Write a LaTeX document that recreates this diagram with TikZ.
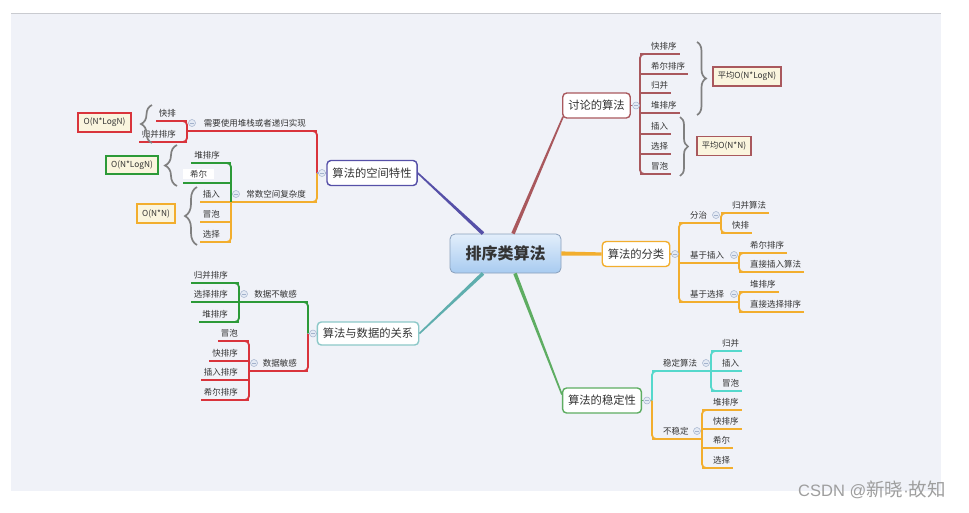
\documentclass[tikz,border=0pt]{standalone}
\usepackage{fontspec}
\setmainfont{Noto Sans CJK SC}
\newfontfamily\latinwm{Liberation Sans}
\usetikzlibrary{decorations.pathreplacing,calc}
\definecolor{bgc}{HTML}{F0F2F8}
\definecolor{bgl}{HTML}{C9CBD0}
\definecolor{txt}{HTML}{333333}
\definecolor{dr}{HTML}{A9585D}
\definecolor{orc}{HTML}{F2AE2E}
\definecolor{cyc}{HTML}{55D8CC}
\definecolor{rdc}{HTML}{D9343C}
\definecolor{gnc}{HTML}{2C9A38}
\definecolor{puc}{HTML}{5650A8}
\definecolor{tlc}{HTML}{5FAEAE}
\definecolor{tlb}{HTML}{8CC8C8}
\definecolor{stc}{HTML}{5EAD62}
\definecolor{mkb}{HTML}{A3B2CC}
\definecolor{mkf}{HTML}{E4EAF4}
\definecolor{ofill}{HTML}{FAF5DE}
\definecolor{brc}{HTML}{808080}
\definecolor{rtop}{HTML}{E2EEFB}
\definecolor{rbot}{HTML}{A8CBF0}
\definecolor{rbord}{HTML}{8AA0BC}
\tikzset{
  lab/.style={text=txt,font=\fontsize{8.5}{10}\selectfont,inner xsep=3pt,inner ysep=1pt},
  ln/.style={line width=1.8pt},
  mbox/.style={draw,rounded corners=4pt,fill=white,line width=1.4pt,text=txt,
    font=\fontsize{11.3}{13}\selectfont,inner xsep=5.5pt,minimum height=25pt},
  obox/.style={draw,fill=ofill,line width=1.4pt,text=txt,font=\fontsize{8.3}{10}\selectfont,
    inner xsep=2pt,inner ysep=1pt,minimum height=19pt},
  bracec/.style={draw=brc,line width=1.7pt,decorate},
  mk/.style={circle,draw=mkb,fill=mkf,line width=0.5pt,minimum size=7pt,inner sep=0pt,
    path picture={\draw[mkb,line width=0.7pt] ([xshift=-2pt]path picture bounding box.center) -- ([xshift=2pt]path picture bounding box.center);}}
}
% right-side leaf: name, bracket x, line y, text, colour
\newcommand\RL[5]{%
  \coordinate (#1-b) at (#2,#3);
  \node[lab,anchor=base west] (#1) at (#2+8,#3-4.5) {#4};
  \draw[ln,#5] (#1-b) -- (#1.east |- #1-b);}
% left-side leaf
\newcommand\LL[5]{%
  \coordinate (#1-b) at (#2,#3);
  \node[lab,anchor=base east] (#1) at (#2-8,#3-4.5) {#4};
  \draw[ln,#5] (#1-b) -- (#1.west |- #1-b);}
% right-side parent: name, bracket x, line y, text, colour, sub-bracket x
\newcommand\RP[6]{%
  \coordinate (#1-b) at (#2,#3);
  \coordinate (#1-s) at (#6,#3);
  \node[lab,anchor=base west] (#1) at (#2+8,#3-4.5) {#4};
  \draw[ln,#5] (#1-b) -- (#1-s);
  \node[mk] (#1-m) at (#6-5,#3-8) {};}
% left-side parent
\newcommand\LP[6]{%
  \coordinate (#1-b) at (#2,#3);
  \coordinate (#1-s) at (#6,#3);
  \node[lab,anchor=base east] (#1) at (#2-8,#3-4.5) {#4};
  \draw[ln,#5] (#1-b) -- (#1-s);
  \node[mk] (#1-m) at (#6+5,#3-8) {};}
% brackets: colour, x, y top, y bottom
\newcommand\BRR[4]{\draw[ln,#1,rounded corners=4pt] (#2+8,#3) -- (#2,#3) -- (#2,#4) -- (#2+8,#4);}
\newcommand\BRL[4]{\draw[ln,#1,rounded corners=4pt] (#2-8,#3) -- (#2,#3) -- (#2,#4) -- (#2-8,#4);}
% tapered connector: colour, from, to, half width start, half width end
\newcommand\TAPER[5]{%
  \fill[#1] ($(#2)!#4!90:(#3)$) -- ($(#3)!#5!-90:(#2)$) -- ($(#3)!#5!90:(#2)$) -- ($(#2)!#4!-90:(#3)$) -- cycle;}

\begin{document}
\begin{tikzpicture}[x=1pt,y=-1pt]
\useasboundingbox (0,0) rectangle (969,512);
\fill[bgc] (11,13) rectangle (941,491);
\draw[bgl,line width=1pt] (11,13.5) -- (941,13.5);

% ---------- main boxes ----------
\node[mbox,draw=dr] (disc) at (596.5,105.5) {讨论的算法};
\node[mbox,draw=orc] (cls) at (636,254) {算法的分类};
\node[mbox,draw=stc] (stab) at (602,400.5) {算法的稳定性};
\node[mbox,draw=puc] (space) at (372,173) {算法的空间特性};
\node[mbox,draw=tlb,minimum height=23pt] (data) at (368,333.5) {算法与数据的关系};

\node[draw=rbord,line width=0.8pt,rounded corners=5pt,top color=rtop,bottom color=rbot,
  minimum width=111pt,minimum height=39pt,text=txt,font=\fontsize{16}{18}\selectfont\bfseries] (root) at (505.5,253.5) {排序类算法};

% ---------- main connectors ----------
\coordinate (r-n1) at ($(root.north)+(7.5,0)$);
\coordinate (r-n2) at ($(root.north)+(-22.5,0)$);
\coordinate (r-s1) at ($(root.south)+(9.5,0)$);
\coordinate (r-s2) at ($(root.south)+(-22.5,0)$);
\coordinate (disc-in) at ($(disc.south west)+(1,-2)$);
\coordinate (stab-in) at ($(stab.west)+(0,-6)$);
\TAPER{dr}{r-n1}{disc-in}{1.8pt}{0.8pt}
\TAPER{orc}{root.east}{cls.west}{2.1pt}{1.6pt}
\TAPER{stc}{r-s1}{stab-in}{1.8pt}{0.8pt}
\TAPER{puc}{r-n2}{space.east}{1.8pt}{0.8pt}
\TAPER{tlc}{r-s2}{data.east}{1.8pt}{0.8pt}

% ---------- 讨论的算法 ----------
\RL{d1}{640}{54}{快排序}{dr}
\RL{d2}{640}{74}{希尔排序}{dr}
\RL{d3}{640}{93}{归并}{dr}
\RL{d4}{640}{113}{堆排序}{dr}
\RL{d5}{640}{134}{插入}{dr}
\RL{d6}{640}{154}{选择}{dr}
\RL{d7}{640}{174}{冒泡}{dr}
\BRR{dr}{640}{54}{174}
\coordinate (disc-b) at (640,105.5);
\draw[ln,dr] (disc.east) -- (disc-b);
\node[mk] (disc-m) at (636,105.5) {};
\draw[bracec,decoration={brace,amplitude=9pt}] (697,42) -- (697,115);
\draw[bracec,decoration={brace,amplitude=8pt}] (680,117) -- (680,176);
\node[obox,draw=dr,minimum width=68pt] (avg1) at (747,76.5) {平均O(N*LogN)};
\node[obox,draw=dr,minimum width=54pt] (avg2) at (724,146) {平均O(N*N)};

% ---------- 算法的分类 ----------
\RP{c1}{679}{223}{分治}{orc}{721}
\RP{c2}{679}{263}{基于插入}{orc}{739}
\RP{c3}{679}{302}{基于选择}{orc}{739}
\BRR{orc}{679}{223}{302}
\coordinate (cls-b) at (679,254);
\draw[ln,orc] (cls.east) -- (cls-b);
\node[mk] (cls-m) at (675,254) {};
\RL{c11}{721}{213}{归并算法}{orc}
\RL{c12}{721}{233}{快排}{orc}
\BRR{orc}{721}{213}{233}
\RL{c21}{739}{253}{希尔排序}{orc}
\RL{c22}{739}{272}{直接插入算法}{orc}
\BRR{orc}{739}{253}{272}
\RL{c31}{739}{292}{堆排序}{orc}
\RL{c32}{739}{312}{直接选择排序}{orc}
\BRR{orc}{739}{292}{312}

% ---------- 算法的稳定性 ----------
\RP{s1}{652}{371}{稳定算法}{cyc}{711}
\RP{s2}{652}{439}{不稳定}{orc}{702}
\coordinate (stab-b) at (652,400.5);
\draw[ln,stc] (stab.east) -- (stab-b);
\draw[ln,cyc,rounded corners=4pt] (660,371) -- (652,371) -- (stab-b);
\draw[ln,orc,rounded corners=4pt] (stab-b) -- (652,439) -- (660,439);
\node[mk] (stab-m) at (647,400.5) {};
\RL{s11}{711}{351}{归并}{cyc}
\RL{s12}{711}{371}{插入}{cyc}
\RL{s13}{711}{391}{冒泡}{cyc}
\BRR{cyc}{711}{351}{391}
\RL{s21}{702}{410}{堆排序}{orc}
\RL{s22}{702}{429}{快排序}{orc}
\RL{s23}{702}{448}{希尔}{orc}
\RL{s24}{702}{468}{选择}{orc}
\BRR{orc}{702}{410}{468}

% ---------- 算法的空间特性 ----------
\LP{p1}{317}{131}{需要使用堆栈或者递归实现}{rdc}{187}
\LP{p2}{317}{202}{常数空间复杂度}{orc}{231}
\coordinate (space-b) at (317,173);
\draw[ln,rdc,rounded corners=4pt] (309,131) -- (317,131) -- (space-b);
\draw[ln,orc,rounded corners=4pt] (space-b) -- (317,202) -- (309,202);
\draw[ln,puc!60!white] (space.west) -- (space-b);
\node[mk] (space-m) at (322,173) {};
\LL{p11}{187}{121}{快排}{rdc}
\LL{p12}{187}{142}{归并排序}{rdc}
\BRL{rdc}{187}{121}{142}
\LL{p21}{231}{163}{堆排序}{gnc}
\node[lab,fill=white,minimum width=31pt,minimum height=10pt,inner sep=0pt] (p22) at (198.5,174) {希尔};
\coordinate (p22-b) at (231,183);
\coordinate (p22-e) at (183,183);
\draw[ln,gnc] (p22-b) -- (p22-e);
\LL{p23}{231}{202}{插入}{orc}
\LL{p24}{231}{222}{冒泡}{orc}
\LL{p25}{231}{242}{选择}{orc}
\draw[ln,gnc,rounded corners=4pt] (223,163) -- (231,163) -- (231,202);
\draw[ln,orc,rounded corners=4pt] (231,202) -- (231,242) -- (223,242);
\draw[bracec,decoration={brace,amplitude=11pt,mirror}] (152,105) -- (152,143);
\draw[bracec,decoration={brace,amplitude=12pt,mirror}] (177,145) -- (177,186);
\draw[bracec,decoration={brace,amplitude=12pt,mirror}] (197,187) -- (197,245);
\node[obox,draw=rdc,minimum width=53pt] (o1) at (104.5,122.5) {O(N*LogN)};
\node[obox,draw=gnc,minimum width=52pt,minimum height=18pt] (o2) at (132,165) {O(N*LogN)};
\node[obox,draw=orc,minimum width=38pt] (o3) at (156,213.5) {O(N*N)};

% ---------- 算法与数据的关系 ----------
\LP{q1}{308}{302}{数据不敏感}{gnc}{239}
\LP{q2}{308}{371}{数据敏感}{rdc}{249}
\coordinate (data-b) at (308,333.5);
\draw[ln,gnc,rounded corners=4pt] (300,302) -- (308,302) -- (data-b);
\draw[ln,rdc,rounded corners=4pt] (data-b) -- (308,371) -- (300,371);
\draw[ln,tlb] (data.west) -- (data-b);
\node[mk] (data-m) at (313,333.5) {};
\LL{q11}{239}{283}{归并排序}{gnc}
\LL{q12}{239}{302}{选择排序}{gnc}
\LL{q13}{239}{322}{堆排序}{gnc}
\BRL{gnc}{239}{283}{322}
\LL{q21}{249}{341}{冒泡}{rdc}
\LL{q22}{249}{361}{快排序}{rdc}
\LL{q23}{249}{380}{插入排序}{rdc}
\LL{q24}{249}{400}{希尔排序}{rdc}
\BRL{rdc}{249}{341}{400}

% ---------- watermark ----------
\node[anchor=base west,inner sep=0pt,text=black!38,font=\fontsize{18.5}{20}\selectfont] (wm) at (798,496) {{\latinwm\fontsize{16.5}{18}\selectfont CSDN @}新晓{\latinwm\fontsize{16.5}{18}\selectfont ·}故知};
\end{tikzpicture}
\end{document}
